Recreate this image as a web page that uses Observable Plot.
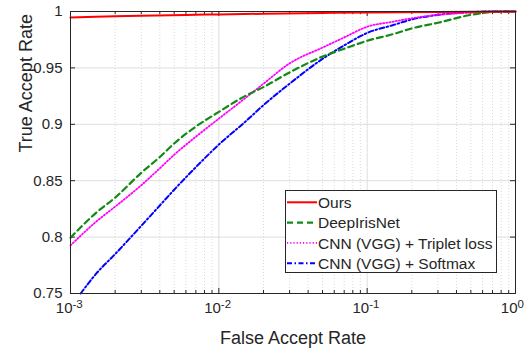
<!DOCTYPE html>
<html><head><meta charset="utf-8">
<script src="https://cdn.jsdelivr.net/npm/d3@7"></script>
<script src="https://cdn.jsdelivr.net/npm/@observablehq/plot@0.6"></script>
<style>body{margin:0;background:#fff}</style>
</head><body><div id="chart"></div><script>
const seriesNames = ["Ours", "DeepIrisNet", "CNN (VGG) + Triplet loss", "CNN (VGG) + Softmax"];
const seriesColors = ["#ff0000", "#138a13", "#ff00ff", "#0000ff"];
const seriesDash = [null, "6,4", "1.2,2", "5,2.5,1.5,2.5"];
const seriesWidth = [2, 2.2, 1.8, 2];

const oursFAR = [0.001, 0.002, 0.003, 0.006, 0.01, 0.02, 0.05, 0.1, 0.3, 1];
const oursTAR = [0.9947, 0.9957, 0.9963, 0.9970, 0.9974, 0.9980, 0.9987, 0.9991, 0.9996, 1];

const deepFAR = [0.001, 0.0015, 0.002, 0.003, 0.004, 0.005, 0.007, 0.01, 0.015, 0.02, 0.03, 0.05, 0.07, 0.1, 0.15, 0.2, 0.3, 0.5, 0.7, 1];
const deepTAR = [0.7995, 0.822, 0.835, 0.857, 0.871, 0.883, 0.898, 0.911, 0.925, 0.933, 0.946, 0.960, 0.967, 0.974, 0.980, 0.985, 0.990, 0.997, 0.9995, 1];

const tripFAR = [0.001, 0.0015, 0.002, 0.003, 0.004, 0.005, 0.007, 0.01, 0.015, 0.02, 0.03, 0.05, 0.07, 0.1, 0.15, 0.2, 0.3, 0.5, 0.7, 1];
const tripTAR = [0.7926, 0.814, 0.827, 0.846, 0.861, 0.873, 0.889, 0.905, 0.923, 0.936, 0.954, 0.968, 0.977, 0.9865, 0.991, 0.994, 0.997, 0.999, 1, 1];

const softFAR = [0.00117, 0.0015, 0.002, 0.003, 0.004, 0.005, 0.007, 0.01, 0.015, 0.02, 0.03, 0.05, 0.07, 0.1, 0.15, 0.2, 0.3, 0.5, 0.7, 1];
const softTAR = [0.750, 0.768, 0.785, 0.810, 0.828, 0.842, 0.862, 0.882, 0.902, 0.917, 0.936, 0.958, 0.970, 0.981, 0.988, 0.993, 0.997, 0.9995, 1, 1];

const xTicks = [0.001, 0.01, 0.1, 1];
const xTickExponents = ["-3", "-2", "-1", "0"];
const xMinorTicks = [0.002,0.003,0.004,0.005,0.006,0.007,0.008,0.009,
                     0.02,0.03,0.04,0.05,0.06,0.07,0.08,0.09,
                     0.2,0.3,0.4,0.5,0.6,0.7,0.8,0.9];
const yTicks = [0.75, 0.8, 0.85, 0.9, 0.95, 1];
const yTickLabels = ["0.75", "0.8", "0.85", "0.9", "0.95", "1"];
const xLabel = "False Accept Rate";
const yLabel = "True Accept Rate";

const fars = [oursFAR, deepFAR, tripFAR, softFAR];
const tars = [oursTAR, deepTAR, tripTAR, softTAR];
const table = seriesNames.map((name, i) => fars[i].map((f, j) => ({series: name, far: f, tar: tars[i][j]})));

const axisColor = "#262626";
const font = "'Liberation Sans', Arial, sans-serif";

const lineMarks = [3, 2, 1, 0].map(i => Plot.line(table[i], {
  x: "far", y: "tar", stroke: seriesColors[i], strokeWidth: seriesWidth[i],
  strokeDasharray: seriesDash[i], curve: "monotone-x"
}));

const plot = Plot.plot({
  width: 530, height: 352,
  marginLeft: 70, marginRight: 15, marginTop: 11, marginBottom: 59,
  style: {fontFamily: font, fontSize: "15px", color: axisColor, background: "#fff", overflow: "visible"},
  x: {type: "log", domain: [1e-3, 1]},
  y: {domain: [0.75, 1]},
  marks: [
    Plot.ruleX(xMinorTicks, {x: d => d, stroke: "#d8d8d8", strokeDasharray: "1,2"}),
    Plot.ruleX(xTicks, {x: d => d, stroke: "#dedede"}),
    Plot.ruleY(yTicks, {y: d => d, stroke: "#dedede"}),
    Plot.ruleX(xTicks, {x: d => d, insetTop: 277, stroke: axisColor}),
    Plot.ruleX(xTicks, {x: d => d, insetBottom: 277, stroke: axisColor}),
    Plot.ruleX(xMinorTicks, {x: d => d, insetTop: 279, stroke: axisColor}),
    Plot.ruleX(xMinorTicks, {x: d => d, insetBottom: 279, stroke: axisColor}),
    Plot.ruleY(yTicks, {y: d => d, insetRight: 440, stroke: axisColor}),
    Plot.ruleY(yTicks, {y: d => d, insetLeft: 440, stroke: axisColor}),
    ...lineMarks,
    Plot.frame({stroke: axisColor, strokeWidth: 1}),
    Plot.axisY(yTicks, {tickSize: 0, tickPadding: 8, tickFormat: (d, i) => yTickLabels[i], label: null, fontSize: 15, fill: axisColor}),
    Plot.axisX(xTicks, {tickSize: 0, tickFormat: () => "", label: null}),
    Plot.text(xTicks, {x: d => d, text: () => "10", frameAnchor: "bottom", lineAnchor: "top", textAnchor: "end", dx: 2, dy: 9.3, fontSize: 15, fill: axisColor}),
    Plot.text(xTicks, {x: d => d, text: (d, i) => xTickExponents[i], frameAnchor: "bottom", lineAnchor: "top", textAnchor: "start", dx: 2, dy: 6.5, fontSize: 11.5, fill: axisColor}),
    Plot.text([xLabel], {text: d => d, frameAnchor: "bottom", lineAnchor: "middle", dy: 45, fontSize: 18, fill: axisColor}),
    Plot.text([yLabel], {text: d => d, frameAnchor: "left", lineAnchor: "middle", rotate: -90, dx: -44, fontSize: 18, fill: axisColor})
  ]
});

// Legend (inside plot, bottom right)
const svg = d3.select(plot);
const lg = svg.append("g").attr("font-family", font).attr("font-size", 15.5)
  .attr("fill", axisColor).attr("text-anchor", "start");
lg.append("rect").attr("x", 285.5).attr("y", 190.5).attr("width", 211).attr("height", 82)
  .attr("fill", "#fff").attr("stroke", axisColor).attr("stroke-width", 1);
seriesNames.forEach((name, i) => {
  const yy = 202.3 + i * 20.3;
  lg.append("line").attr("x1", 287).attr("x2", 317).attr("y1", yy).attr("y2", yy)
    .attr("stroke", seriesColors[i]).attr("stroke-width", seriesWidth[i])
    .attr("stroke-dasharray", seriesDash[i]);
  lg.append("text").attr("x", 318).attr("y", yy + 5.6).attr("text-anchor", "start").text(name);
});

document.getElementById("chart").append(plot);
</script></body></html>
